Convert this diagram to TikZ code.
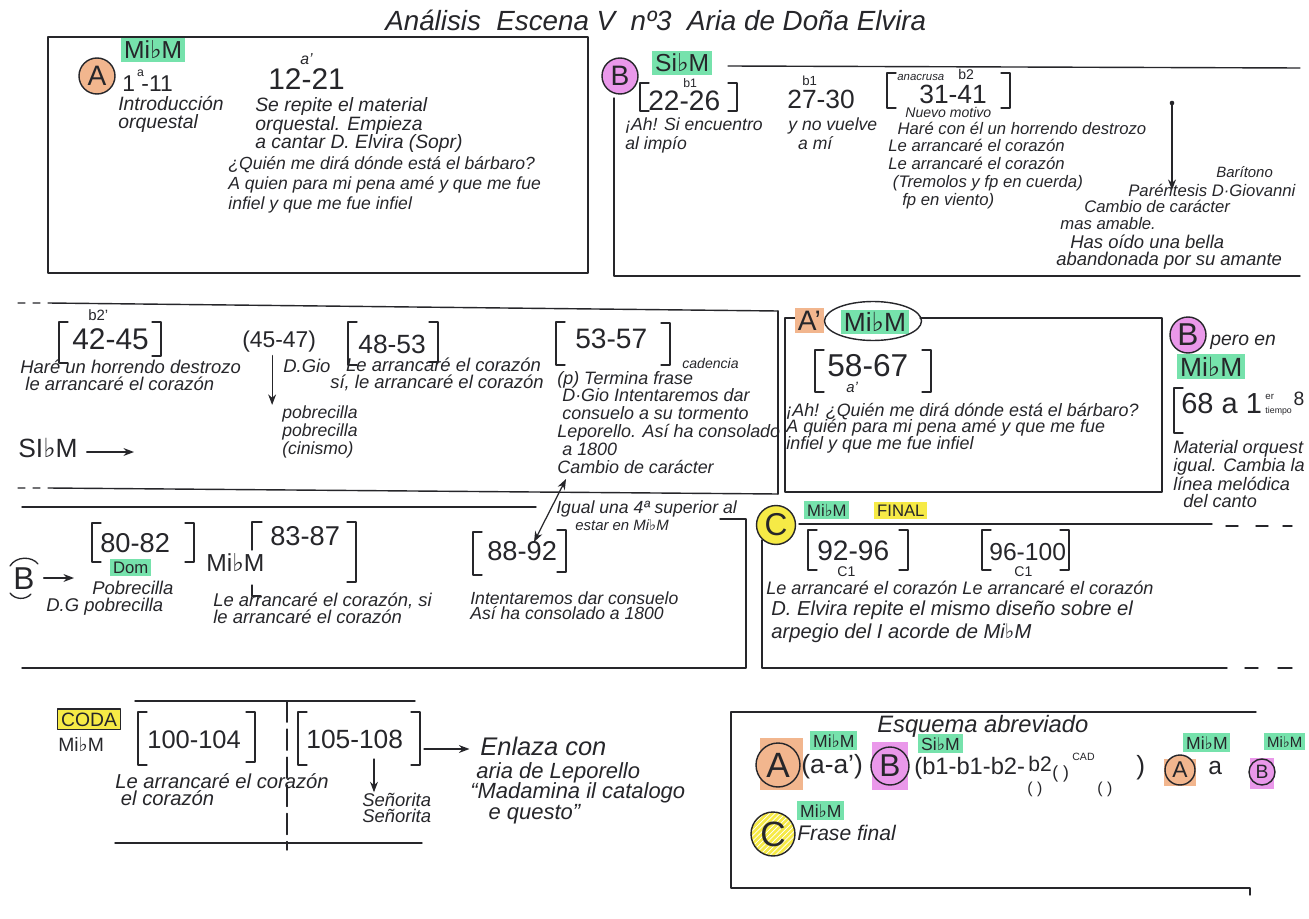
\documentclass[tikz,border=0pt]{standalone}
\usepackage{fontspec}
\setmainfont{Liberation Sans}
\newfontfamily\symf{DejaVu Sans}
\usetikzlibrary{arrows.meta,shapes.geometric,patterns}
\definecolor{ink}{RGB}{38,38,42}
\definecolor{mint}{RGB}{118,226,172}
\definecolor{orng}{RGB}{242,182,142}
\definecolor{pinkc}{RGB}{234,152,234}
\definecolor{yel}{RGB}{246,234,70}
\newcommand\fl{{\symf ♭}}
\newcommand\MiM{Mi\fl M}
\newcommand\SiM{Si\fl M}
\newcommand\fs[2]{\fontsize{#1}{#2}\selectfont\itshape}
\newcommand\fn[1]{\fontsize{#1}{#1}\selectfont}
\newcommand\ml[1]{\vtop{\halign{##\hfil\cr#1\crcr}}}
\newcommand\brL[3]{\draw[brk] ({#1+9},#2) -- (#1,#2) -- (#1,#3) -- ({#1+9},#3);}
\newcommand\brR[3]{\draw[brk] ({#1-9},#2) -- (#1,#2) -- (#1,#3) -- ({#1-9},#3);}
\begin{document}
\begin{tikzpicture}[x=0.02cm,y=-0.02cm,color=ink,line cap=round,line join=round,
  box/.style={line width=0.8pt},
  brk/.style={line width=0.75pt},
  tx/.style={anchor=base west,inner sep=0pt,font={\fs{10.5}{10}}},
  num/.style={anchor=base west,inner sep=0pt,font={\fn{16}}},
  hl/.style={anchor=base west,fill=mint,inner sep=1.6pt,font={\fn{13}}},
  circ/.style={circle,draw=ink,line width=0.8pt,inner sep=0pt,minimum size=#1,font={\fn{16}}},
  arr/.style={-{Stealth[length=6pt,width=4.5pt]},line width=0.7pt}]
\fill[white] (0,0) rectangle (1309,919);
\useasboundingbox (0,0) rectangle (1309,919);

% ---------- title
\node[tx,font={\fs{15.8}{16}}] (title) at (385,31) {Análisis \ Escena V \ nº3 \ Aria de Doña Elvira};

% ---------- box A
\draw[box] (48,37) rectangle (588,273);
\node[circ=0.72cm,fill=orng] (cA) at (97,76) {A};
\node[hl,font={\fn{14}}] (kA) at (121,59) {\MiM};
\node[num,font={\fn{13}}] (nA1) at (122,92) {1\rlap{\raisebox{9pt}{\fn{7}\,a}} -11};
\node[tx,font={\fs{11}{10}}] (iA) at (118,111) {\ml{Introducción\cr orquestal}};
\node[num,font={\fn{17}}] (nA2) at (268,90) {12-21};
\node[tx,font={\fs{9}{9}}] (nA2s) at (300,65) {a'};
\node[tx,font={\fs{11}{10.3}}] (sA) at (255,112) {\ml{Se repite el material\cr orquestal. Empieza\cr a cantar D. Elvira (Sopr)}};
\node[tx,font={\fs{10}{11.2}}] (qA) at (228,170) {\ml{¿Quién me dirá dónde está el bárbaro?\cr A quien para mi pena amé y que me fue\cr infiel y que me fue infiel}};

% ---------- box B
\draw[box] (728,66) -- (1300,68);
\draw[box] (614,98) -- (614,276) -- (1300,276);
\node[circ=0.72cm,fill=pinkc] (cB) at (620,76) {B};
\node[hl,font={\fn{14}}] (kB) at (652,72) {\SiM};
\brL{640}{83}{111} \brR{737}{83}{111}
\node[num,font={\fn{16}}] (n2226) at (648,111) {22-26};
\node[tx,font={\fn{7}}] (n2226s) at (683,88) {b1};
\node[tx,font={\fs{10}{10.5}}] (ahB) at (625,131) {\ml{¡Ah! Si encuentro\cr al impío}};
\node[tx,font={\fn{7.5}}] (n2730s) at (802,86) {b1};
\node[num,font={\fn{15}}] (n2730) at (787,109) {27-30};
\node[tx,font={\fs{10}{10.5}}] (yB) at (788,131) {\ml{y no vuelve\cr \ \ a mí}};
\brL{887}{73}{108} \brR{1010}{73}{108}
\node[tx,font={\fs{6.5}{6.5}}] (anac) at (897,81) {anacrusa};
\node[tx,font={\fn{8}}] (b2B) at (958,80) {b2};
\node[num,font={\fn{15}}] (n3141) at (919,104) {31-41};
\node[tx,font={\fs{8}{8}}] (nuevo) at (905,118) {Nuevo motivo};
\node[tx,font={\fs{9.5}{10.2}}] (hB) at (888,134) {\ml{\ \ Haré con él un horrendo destrozo\cr Le arrancaré el corazón\cr Le arrancaré el corazón\cr \ (Tremolos y fp en cuerda)\cr \ \ \ fp en viento)}};
\coordinate (arB1) at (1172,103);
\coordinate (arB2) at (1172,190);
\fill (arB1) circle[radius=1.3pt];
\draw[arr] (arB1) -- (arB2);
\node[tx,font={\fs{8.5}{8.5}}] (bari) at (1216,177) {Barítono};
\node[tx,font={\fs{9.5}{9.5}}] (paren) at (1128,196) {Paréntesis D·Giovanni};
\node[tx,font={\fs{9.5}{9.5}}] (camB) at (1084,213) {Cambio de carácter};
\node[tx,font={\fs{9.5}{9.5}}] (masB) at (1060,229) {mas amable.};
\node[tx,font={\fs{10.5}{10}}] (hasB) at (1070,248) {Has oído una bella};
\node[tx,font={\fs{10.5}{10}}] (abaB) at (1056,265) {abandonada por su amante};

% ---------- row 2, left box
\draw[box] (18,303) -- (25,303) (33,303) -- (40,303) (48,303) -- (778,311);
\draw[box] (778,311) -- (778,494);
\draw[box] (18,488) -- (25,488) (33,488) -- (40,488) (48,488) -- (778,494);
\brL{59}{322}{363} \brR{161}{322}{356}
\node[tx,font={\fn{8.5}}] (b2p) at (88,320) {b2'};
\node[num,font={\fn{17}}] (n4245) at (72,349) {42-45};
\node[tx] (hR2) at (20,373) {\ml{Haré un horrendo destrozo\cr \ le arrancaré el corazón}};
\node[num,font={\fn{13}}] (n4547) at (242,347) {(45-47)};
\node[tx] (dgio1) at (283,372) {D.Gio};
\node[tx,font={\fs{10}{9.2}}] (pob) at (282,418) {\ml{pobrecilla\cr pobrecilla\cr (cinismo)}};
\draw[arr] ([xshift=-4pt,yshift=-2pt]n4547.south) -- ([xshift=-4pt]n4547.south |- pob.north);
\node[num,font={\fn{15}}] (sib) at (18,457) {SI\fl M};
\coordinate (sibend) at (134,452);
\draw[arr] ([xshift=5pt]sib.east |- sibend) -- (sibend);
\brL{348}{322}{365} \brR{438}{322}{362}
\node[num,font={\fn{15}}] (n4853) at (358,353) {48-53};
\node[tx] (lR2) at (330,371) {\ml{\hspace{9pt}Le arrancaré el corazón\cr sí, le arrancaré el corazón}};
\brL{556}{322}{365} \brR{670}{323}{365}
\node[num,font={\fn{16}}] (n5357) at (575,348) {53-57};
\node[tx,font={\fs{8}{8}}] (cad) at (682,368) {cadencia};
\node[tx,font={\fs{10.2}{10.2}}] (dgio) at (557,384) {\ml{(p) Termina frase\cr \ D·Gio Intentaremos dar\cr \ consuelo a su tormento\cr Leporello. Así ha consolado\cr \ a 1800\cr Cambio de carácter}};
\coordinate (dA1) at (566,479);
\coordinate (dA2) at (534,542);
\draw[arr,{Stealth[length=6pt,width=4.5pt]}-{Stealth[length=6pt,width=4.5pt]}] (dA1) -- (dA2);

% ---------- row 2, A' box
\draw[box] (797,318) -- (785,318) -- (785,492) -- (1162,492) -- (1162,318) -- (920,318);
\node[anchor=base west,fill=orng,inner sep=1.5pt,font={\fn{16}}] (aprime) at (795,330) {A'};
\node[hl,anchor=center,font={\fn{15}}] (kAp) at (875,322) {\MiM};
\node[ellipse,draw=ink,line width=0.8pt,minimum width=1.94cm,minimum height=0.78cm] (elAp) at (873,321) {};
\brL{815}{350}{392} \brR{931}{350}{392}
\node[num,font={\fn{18}}] (n5867) at (827,376) {58-67};
\node[tx,font={\fs{8.5}{8.5}}] (n5867s) at (846,392) {a'};
\node[tx,font={\fs{10.2}{9.6}}] (ahAp) at (786,416) {\ml{¡Ah! ¿Quién me dirá dónde está el bárbaro?\cr A quién para mi pena amé y que me fue\cr infiel y que me fue infiel}};

% ---------- B pero en
\node[circ=0.72cm,fill=pinkc,font={\fn{18}}] (cB2) at (1188,335) {B};
\node[tx,font={\fs{11}{11}}] (pero) at (1210,345) {pero en};
\node[hl,font={\fn{15}}] (kB2) at (1177,376) {\MiM};
\draw[brk] (1183,388) -- (1174,388) -- (1174,433) -- (1183,433);
\node[num,font={\fn{16.5}}] (n68) at (1181,413) {68 a 1\hspace{2pt}\shortstack[l]{\fn{5.5}er\\[1pt]\fn{5}tiempo}\hspace{1pt}\raisebox{4pt}{\fn{11}8}};
\node[tx,font={\fs{10.3}{9.6}}] (mat) at (1173,453) {\ml{Material orquest\cr igual. Cambia la\cr línea melódica\cr \ \ del canto}};

% ---------- row 3, left box
\draw[box] (22,507) -- (536,507);
\draw[box] (720,519) -- (746,519) -- (746,668) -- (22,668);
\node[tx,font={\fs{10}{10}}] (igual) at (556,513) {Igual una 4ª superior al};
\node[tx,font={\fs{8.5}{8.5}}] (estar) at (575,530) {estar en \MiM};
\node[inner sep=0pt,font={\fn{18}}] (bB3) at (24,579) {B};
\draw[brk] (10,566) .. controls (16,556) and (32,556) .. (38,564);
\draw[brk] (10,593) .. controls (15,600) and (26,600) .. (31,594);
\coordinate (bB3a) at (74,578);
\draw[arr] ([xshift=5pt]bB3.east |- bB3a) -- (bB3a);
\brL{92}{523}{562} \brR{194}{523}{562}
\node[num,font={\fn{15.5}}] (n8082) at (100,552) {80-82};
\node[hl,font={\fn{9.5}}] (dom) at (110,573) {Dom};
\node[tx] (pob3) at (92,594) {Pobrecilla};
\node[tx] (dg3) at (46,611) {D.G pobrecilla};
\node[num,font={\fn{14}}] (k3) at (206,571) {\MiM};
\draw[brk] (262,522) -- (252,522) -- (252,550);
\draw[brk] (252,585) -- (252,596) -- (261,596);
\brR{356}{522}{582}
\node[num,font={\fn{15.5}}] (n8387) at (270,545) {83-87};
\node[tx,font={\fs{10.5}{10.2}}] (le3) at (213,606) {\ml{Le arrancaré el corazón, si\cr le arrancaré el corazón}};
\brL{473}{532}{575} \brR{566}{530}{572}
\node[num,font={\fn{15.5}}] (n8892) at (487,560) {88-92};
\node[tx,font={\fs{10}{8.8}}] (int3) at (470,604) {\ml{Intentaremos dar consuelo\cr Así ha consolado a 1800}};

% ---------- C section
\draw[box] (799,524) -- (1212,524);
\draw[box] (1226,526) -- (1238,526) (1256,526) -- (1268,526) (1283,526) -- (1292,526);
\draw[box] (762,540) -- (762,668) -- (1227,668);
\draw[box] (1245,668) -- (1258,668) (1278,668) -- (1292,668);
\node[circ=0.78cm,fill=yel,font={\fn{18}}] (cC) at (776,525) {C};
\node[hl,font={\fn{9.5}}] (kC) at (804,516) {\MiM};
\node[hl,fill=yel,font={\fn{9.5}}] (fin) at (874,516) {FINAL};
\brL{808}{530}{570} \brR{908}{530}{570}
\node[num] (n9296) at (817,560) {92-96};
\node[tx,font={\fn{8}}] (c1a) at (837,576) {C1};
\brL{982}{530}{570} \brR{1069}{530}{570}
\node[num,font={\fn{14}}] (n96100) at (989,560) {96-100};
\node[tx,font={\fn{8}}] (c1b) at (1014,576) {C1};
\node[tx,font={\fs{10.3}{10}}] (leC) at (766,594) {Le arrancaré el corazón Le arrancaré el corazón};
\node[tx,font={\fs{11.5}{13.6}}] (dC) at (771,615) {\ml{D. Elvira repite el mismo diseño sobre el\cr arpegio del I acorde de \MiM}};

% ---------- CODA
\draw[box] (135,701) -- (415,701);
\draw[box] (115,843) -- (422,843);
\draw[box,dash pattern=on 12pt off 4pt] (287,701) -- (287,850);
\node[draw=ink,line width=0.8pt,fill=yel,inner sep=2pt,anchor=base west,font={\fn{11}}] (coda) at (57,726) {CODA};
\node[num,font={\fn{11}}] (kcoda) at (58,751) {\MiM};
\brL{138}{712}{765} \brR{255}{712}{762}
\node[num,font={\fn{14.5}}] (n100) at (147,748) {100-104};
\brL{298}{712}{765} \brR{420}{712}{765}
\node[num,font={\fn{15}}] (n105) at (306,748) {105-108};
\node[tx,font={\fs{11.5}{10.2}}] (leCoda) at (115,788) {\ml{Le arrancaré el corazón\cr \ el corazón}};
\coordinate (s1) at (374,759);
\node[tx,font={\fs{10.5}{9.6}}] (sen) at (362,806) {\ml{Señorita\cr Señorita}};
\draw[arr] (s1) -- (s1 |- sen.north);
\node[tx,font={\fs{14.5}{14}}] (enl) at (480,755) {Enlaza con};
\node[tx,font={\fs{12.5}{11.8}}] (enl2) at (470,778) {\ml{\ aria de Leporello\cr “Madamina il catalogo\cr \ \ \ e questo”}};
\coordinate (enA) at (424,749);
\draw[arr] (enA) -- ([xshift=-6pt]enl.west |- enA);

% ---------- Esquema abreviado
\draw[box] (1256,712) -- (731,712) -- (731,888) -- (1250,888) -- (1250,895);
\node[tx,font={\fs{13.5}{13}}] (esq) at (877,732) {Esquema abreviado};
\fill[orng] (760,738) rectangle (803,790);
\node[circ=0.88cm,fill=orng,font={\fn{20}}] (eA) at (778,765) {A};
\node[hl,font={\fn{10}}] (ekA) at (810,747) {\MiM};
\node[num,font={\fn{15}}] (eaa) at (801,773) {(a-a')};
\fill[pinkc] (872,742) rectangle (908,790);
\node[circ=0.76cm,fill=pinkc,font={\fn{18}}] (eB) at (890,766) {B};
\node[hl,font={\fn{10}}] (ekB) at (918,750) {\SiM};
\node[num,font={\fn{13.5}}] (eb) at (914,774) {(b1-b1-b2-};
\node[num,font={\fn{12}}] (eb2) at (1028,771) {b2};
\node[num,font={\fn{9}}] (ep1) at (1027,793) {( )};
\node[num,font={\fn{10}}] (ep2) at (1052,778) {( )};
\node[num,font={\fn{6}}] (ecad) at (1072,760) {CAD};
\node[num,font={\fn{9}}] (ep3) at (1097,793) {( )};
\node[num,font={\fn{15}}] (ep4) at (1136,774) {)};
\node[hl,font={\fn{10}}] (ekA2) at (1183,749) {\MiM};
\fill[orng] (1164,759) rectangle (1196,786);
\node[circ=0.6cm,fill=orng,font={\fn{13}}] (eA2) at (1180,770) {A};
\node[num,font={\fn{14}}] (ea) at (1208,774) {a};
\fill[pinkc] (1250,758) rectangle (1274,789);
\node[circ=0.52cm,fill=pinkc,font={\fn{11}}] (eB2) at (1262,772) {B};
\node[hl,font={\fn{8.5}}] (ekB2) at (1264,747) {\MiM};
\fill[yel] (773,834) circle[radius=0.44cm];
\fill[pattern=north east lines,pattern color=white] (773,834) circle[radius=0.44cm];
\node[circ=0.88cm,font={\fn{20}}] (eC) at (773,834) {C};
\node[hl,font={\fn{10}}] (ekC) at (797,817) {\MiM};
\node[tx,font={\fs{12}{12}}] (frase) at (797,840) {Frase final};
\end{tikzpicture}
\end{document}
